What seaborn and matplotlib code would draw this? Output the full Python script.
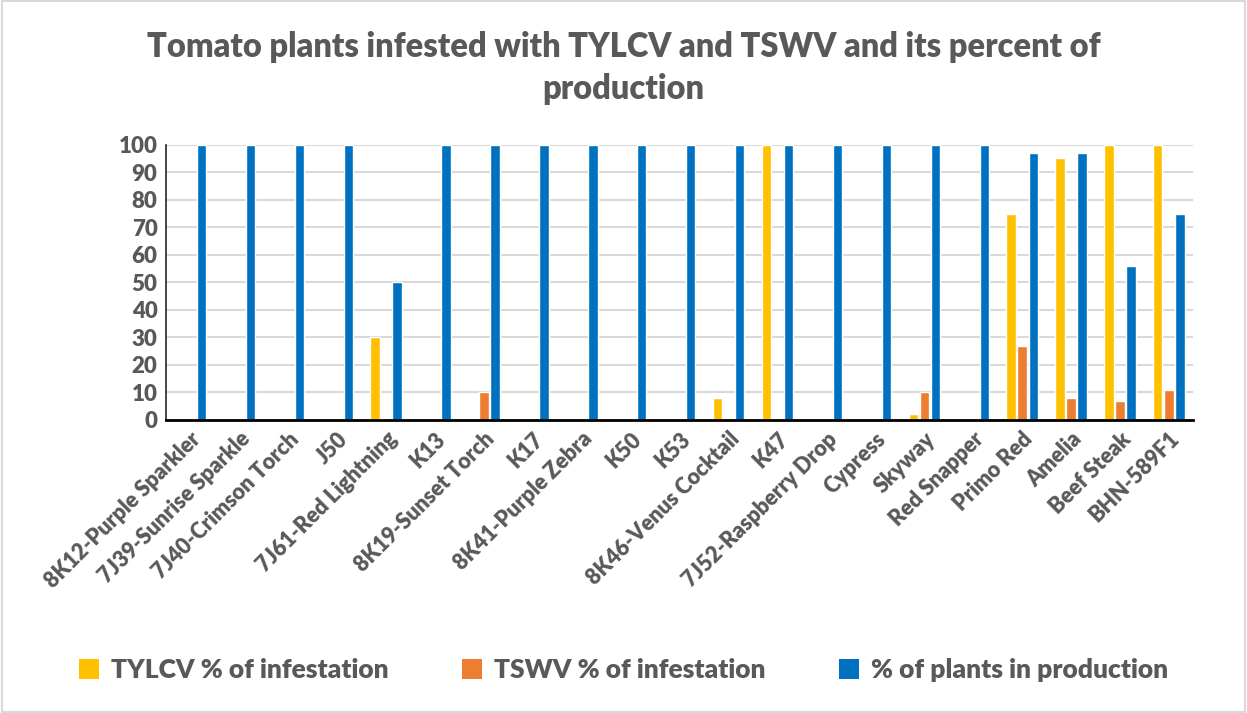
import pandas as pd
import matplotlib
matplotlib.use('Agg')
import matplotlib.pyplot as plt
import seaborn as sns
from matplotlib.patches import Patch

# ---- data ----
varieties = [
    '8K12-Purple Sparkler', '7J39-Sunrise Sparkle', '7J40-Crimson Torch', 'J50',
    '7J61-Red Lightning', 'K13', '8K19-Sunset Torch', 'K17', '8K41-Purple Zebra',
    'K50', 'K53', '8K46-Venus Cocktail', 'K47', '7J52-Raspberry Drop', 'Cypress',
    'Skyway', 'Red Snapper', 'Primo Red', 'Amelia', 'Beef Steak', 'BHN-589F1'
]
tylcv = [0, 0, 0, 0, 30, 0, 0, 0, 0, 0, 0, 8, 100, 0, 0, 2, 0, 75, 95, 100, 100]
tswv = [0, 0, 0, 0, 0, 0, 10, 0, 0, 0, 0, 0, 0, 0, 0, 10, 0, 27, 8, 7, 11]
production = [100, 100, 100, 100, 50, 100, 100, 100, 100, 100, 100, 100, 100,
              100, 100, 100, 100, 97, 97, 56, 75]
series_names = ['TYLCV % of infestation', 'TSWV % of infestation',
                '% of plants in production']
colors = ['#FFC000', '#ED7D31', '#0070C0']

df = pd.DataFrame({'Variety': varieties,
                   series_names[0]: tylcv,
                   series_names[1]: tswv,
                   series_names[2]: production})
long = df.melt(id_vars='Variety', var_name='Series', value_name='Value')

# ---- plot ----
sns.set_style('white')
plt.rcParams['font.family'] = ['Lato', 'DejaVu Sans']
TXT = '#595959'

fig = plt.figure(figsize=(12.47, 7.13), dpi=100)
ax = fig.add_axes([0.133, 0.411, 0.824, 0.386])

sns.barplot(data=long, x='Variety', y='Value', hue='Series',
            hue_order=series_names, palette=colors, saturation=1,
            width=0.68, gap=0.16, ax=ax, legend=False)

ax.set_ylim(0, 100)
ax.set_yticks(range(0, 101, 10))
ax.set_xlim(-0.5, len(varieties) - 0.5)
ax.yaxis.grid(True, color='#d9d9d9', linewidth=1.5)
ax.set_axisbelow(True)
for s in ['top', 'right']:
    ax.spines[s].set_visible(False)
ax.spines['bottom'].set_color('black')
ax.spines['bottom'].set_linewidth(2)
ax.spines['left'].set_color('#262626')
ax.spines['left'].set_linewidth(1.2)
ax.set_xlabel('')
ax.set_ylabel('')
ax.tick_params(axis='both', length=0, pad=6)
for lbl in ax.get_yticklabels():
    lbl.set_fontsize(16)
    lbl.set_fontweight('heavy')
    lbl.set_color(TXT)
ax.set_xticks(range(len(varieties)))
ax.set_xticklabels(varieties, rotation=45, ha='right', rotation_mode='anchor',
                   fontsize=15.5, fontweight='heavy', color=TXT)

fig.text(0.5, 0.905, 'Tomato plants infested with TYLCV and TSWV and its percent of\nproduction',
         ha='center', va='center', fontsize=23.5, fontweight='heavy', color=TXT,
         linespacing=1.4)

handles = [Patch(facecolor=c, edgecolor='none') for c in colors]
leg = fig.legend(handles, series_names, loc='center', bbox_to_anchor=(0.5, 0.06),
                 ncol=3, frameon=False, handlelength=0.75,
                 handleheight=0.75, handletextpad=0.45, columnspacing=2.8,
                 labelcolor=TXT, prop={'family': ['Lato', 'DejaVu Sans'],
                                       'weight': 'heavy', 'size': 19})

# chart border
fig.patches.append(plt.Rectangle((0.002, 0.002), 0.996, 0.996, transform=fig.transFigure,
                                 fill=False, edgecolor='#d9d9d9', linewidth=1.5))

fig.savefig('out.png', dpi=100, facecolor='white')
